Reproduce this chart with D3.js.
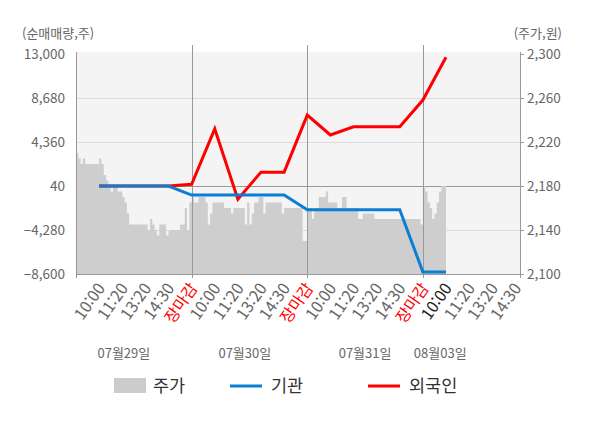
<!DOCTYPE html>
<html lang="ko">
<head>
<meta charset="UTF-8">
<title>순매매량 / 주가</title>
<script src="https://d3js.org/d3.v7.min.js"></script>
<style>
  body { margin: 0; background: #fff; }
  svg { font-family: "Noto Sans CJK KR", "Noto Sans", sans-serif; }
</style>
</head>
<body>
<script>
// ---- data ----
const dayNames = ["07월29일", "07월30일", "07월31일", "08월03일"];
const dateLabelSlot = [2.07, 7.3, 12.5, 15.75];
const slotLabels = ["10:00", "11:20", "13:20", "14:30", "장마감"];
const lastSlot = 19.2;

// price (주가), one sample every 0.1 slot
const price0729 = [2210, 2205, 2200, 2205, 2200, 2200, 2200, 2200, 2200, 2200,
                   2205, 2200, 2190, 2185, 2180, 2175, 2180, 2180, 2175, 2175,
                   2170, 2165, 2155, 2145, 2145, 2145, 2145, 2145, 2145, 2145,
                   2145, 2140, 2150, 2145, 2140, 2135, 2145, 2145, 2145, 2135,
                   2140, 2140, 2140, 2140, 2140, 2145, 2145, 2160, 2140, 2165];
const price0730 = [2170, 2165, 2165, 2170, 2170, 2170, 2165, 2145, 2155, 2165,
                   2165, 2165, 2165, 2165, 2160, 2160, 2160, 2155, 2160, 2160,
                   2160, 2160, 2160, 2145, 2165, 2145, 2155, 2165, 2165, 2170,
                   2170, 2155, 2165, 2165, 2165, 2165, 2165, 2165, 2165, 2155,
                   2160, 2160, 2160, 2160, 2160, 2160, 2160, 2160, 2130, 2130];
const price0731 = [2160, 2160, 2150, 2160, 2160, 2170, 2170, 2170, 2175, 2165,
                   2165, 2165, 2165, 2160, 2160, 2170, 2170, 2160, 2160, 2160,
                   2160, 2160, 2150, 2150, 2155, 2155, 2155, 2155, 2155, 2150,
                   2150, 2150, 2150, 2150, 2150, 2150, 2150, 2150, 2150, 2150,
                   2150, 2150, 2150, 2150, 2150, 2150, 2150, 2150, 2150, 2145];
const price0803 = [2180, 2175, 2165, 2160, 2150, 2155, 2165, 2175, 2180, 2180];

// net buying (순매매량), slots 1..16
const foreignVals = [40, 40, 40, 40, 200, 5650, -1250, 1400, 1400, 7000,
                     5050, 5850, 5850, 5850, 8480, 12680];
const instVals = [40, 40, 40, 40, -850, -850, -850, -850, -850, -2300,
                  -2300, -2300, -2300, -2300, -8400, -8400];

const leftTicks = [-8600, -4280, 40, 4360, 8680, 13000];
const rightTicks = [2100, 2140, 2180, 2220, 2260, 2300];

const legendItems = [
  {name: "주가", type: "area", color: "#cccccc"},
  {name: "기관", type: "line", color: "#0a7fd2"},
  {name: "외국인", type: "line", color: "#ff0000"}
];

// ---- chart ----
const width = 600, height = 428;
const plot = {left: 76, right: 520, top: 54, bottom: 274};

const svg = d3.select("body").append("svg")
  .attr("width", width)
  .attr("height", height);

const x = d3.scaleLinear().domain([0, lastSlot]).range([plot.left, plot.right]);
const yL = d3.scaleLinear().domain([-8600, 13000]).range([plot.bottom, plot.top]);
const yR = d3.scaleLinear().domain([2100, 2300]).range([plot.bottom, plot.top]);

svg.append("rect")
  .attr("x", plot.left).attr("y", plot.top - 2)
  .attr("width", plot.right - plot.left)
  .attr("height", plot.bottom - plot.top + 2)
  .attr("fill", "#f4f4f4");

// horizontal grid
svg.append("g").selectAll("line")
  .data(leftTicks.filter(v => v !== 13000))
  .join("line")
  .attr("x1", plot.left).attr("x2", plot.right)
  .attr("y1", d => yL(d) + 0.5).attr("y2", d => yL(d) + 0.5)
  .attr("stroke", d => (d === 40 || d === -8600) ? "#999" : "#dcdcdc")
  .attr("stroke-width", 1);

// price area
const priceData = [price0729, price0730, price0731, price0803]
  .flatMap((arr, d) => arr.map((p, i) => ({s: d * 5 + i * 0.1, p})));
const lastPt = priceData[priceData.length - 1];
priceData.push({s: lastPt.s + 0.1, p: lastPt.p});

svg.append("path")
  .datum(priceData)
  .attr("fill", "#cecece")
  .attr("d", d3.area()
    .x(d => x(d.s))
    .y0(yR(2100))
    .y1(d => yR(d.p))
    .curve(d3.curveStepAfter));

// day separators
svg.append("g").selectAll("line")
  .data([5, 10, 15])
  .join("line")
  .attr("x1", d => Math.round(x(d)) + 0.5).attr("x2", d => Math.round(x(d)) + 0.5)
  .attr("y1", 45).attr("y2", plot.bottom + 4)
  .attr("stroke", "#999");

// axis lines
svg.append("line")
  .attr("x1", plot.left + 0.5).attr("x2", plot.left + 0.5)
  .attr("y1", plot.top - 2).attr("y2", plot.bottom + 4)
  .attr("stroke", "#999");
svg.append("line")
  .attr("x1", plot.right + 0.5).attr("x2", plot.right + 0.5)
  .attr("y1", plot.top - 2).attr("y2", plot.bottom + 4)
  .attr("stroke", "#999");
svg.append("g").selectAll("line")
  .data(rightTicks)
  .join("line")
  .attr("x1", plot.right).attr("x2", plot.right + 4)
  .attr("y1", d => yR(d) + 0.5).attr("y2", d => yR(d) + 0.5)
  .attr("stroke", "#999");

// lines
const line = d3.line().x(d => x(d.s)).y(d => yL(d.v));
svg.append("path")
  .datum(foreignVals.map((v, i) => ({s: i + 1, v})))
  .attr("fill", "none")
  .attr("stroke", "#ff0000")
  .attr("stroke-width", 3)
  .attr("d", line);
svg.append("path")
  .datum(instVals.map((v, i) => ({s: i + 1, v})))
  .attr("fill", "none")
  .attr("stroke", "#0a7fd2")
  .attr("stroke-width", 3)
  .attr("d", line);

// y labels
const fmt = d3.format(",");
svg.append("g").selectAll("text")
  .data(leftTicks)
  .join("text")
  .attr("x", 65).attr("y", d => yL(d))
  .attr("dy", "0.35em")
  .attr("text-anchor", "end")
  .attr("font-size", 13.5)
  .attr("fill", "#666")
  .text(d => fmt(d));
svg.append("g").selectAll("text")
  .data(rightTicks)
  .join("text")
  .attr("x", 527).attr("y", d => yR(d))
  .attr("dy", "0.35em")
  .attr("font-size", 13.5)
  .attr("fill", "#666")
  .text(d => fmt(d));

svg.append("text")
  .attr("x", 22).attr("y", 38)
  .attr("font-size", 13)
  .attr("fill", "#666")
  .text("(순매매량,주)");
svg.append("text")
  .attr("x", 562).attr("y", 38)
  .attr("text-anchor", "end")
  .attr("font-size", 13)
  .attr("fill", "#666")
  .text("(주가,원)");

// x tick labels
const xTicks = [];
dayNames.forEach((day, d) => {
  slotLabels.forEach((lab, j) => {
    const s = d * 5 + j + 1;
    if (s <= lastSlot) xTicks.push({s, lab, d, j});
  });
});
svg.append("g").selectAll("text")
  .data(xTicks)
  .join("text")
  .attr("transform", d => `translate(${x(d.s) + 2},${plot.bottom + 11}) rotate(-55)`)
  .attr("dy", "0.35em")
  .attr("text-anchor", "end")
  .attr("font-size", 16)
  .attr("fill", d => d.lab === "장마감" ? "#ff0000" : (d.d === 3 && d.j === 0 ? "#222" : "#666"))
  .text(d => d.lab);

// date labels
svg.append("g").selectAll("text")
  .data(dayNames)
  .join("text")
  .attr("x", (d, i) => x(dateLabelSlot[i]))
  .attr("y", 358)
  .attr("text-anchor", "middle")
  .attr("font-size", 13)
  .attr("fill", "#666")
  .text(d => d);

// legend
const legendX = [114, 230, 368];
const lg = svg.append("g").selectAll("g")
  .data(legendItems)
  .join("g")
  .attr("transform", (d, i) => `translate(${legendX[i]},386)`);
lg.filter(d => d.type === "area").append("rect")
  .attr("x", 0).attr("y", -8).attr("width", 32).attr("height", 15)
  .attr("fill", d => d.color);
lg.filter(d => d.type === "line").append("line")
  .attr("x1", 0).attr("x2", 32).attr("y1", 0).attr("y2", 0)
  .attr("stroke", d => d.color).attr("stroke-width", 3);
lg.append("text")
  .attr("x", d => d.type === "area" ? 39 : 41)
  .attr("y", 0).attr("dy", "0.35em")
  .attr("font-size", 17.5)
  .attr("fill", "#333")
  .text(d => d.name);
</script>
</body>
</html>
